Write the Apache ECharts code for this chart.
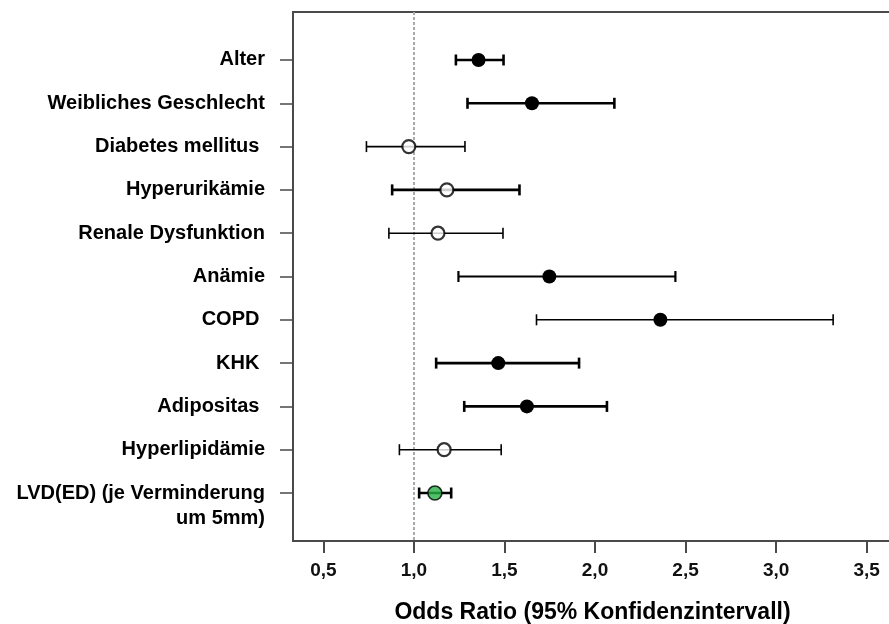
<!DOCTYPE html>
<html>
<head>
<meta charset="utf-8">
<script src="https://cdn.jsdelivr.net/npm/echarts@6/dist/echarts.min.js"></script>
<style>
  html, body { margin: 0; padding: 0; background: #fff; }
  #chart { width: 889px; height: 624px; }
</style>
</head>
<body>
<div id="chart"></div>
<script>
// Risk factors, top to bottom
const factors = [
  'Alter',
  'Weibliches Geschlecht',
  'Diabetes mellitus ',
  'Hyperurikämie',
  'Renale Dysfunktion',
  'Anämie',
  'COPD ',
  'KHK ',
  'Adipositas ',
  'Hyperlipidämie',
  'LVD(ED) (je Verminderung\num 5mm)'
];
// Odds ratios with lower / upper 95% confidence limits
const oddsRatio = [1.357, 1.652, 0.972, 1.182, 1.133, 1.748, 2.361, 1.466, 1.624, 1.167, 1.116];
const ciLower   = [1.232, 1.296, 0.738, 0.880, 0.862, 1.246, 1.677, 1.123, 1.278, 0.920, 1.029];
const ciUpper   = [1.495, 2.107, 1.282, 1.583, 1.492, 2.444, 3.315, 1.912, 2.066, 1.482, 1.206];
// x-axis tick labels
const xTicks = [0.5, 1.0, 1.5, 2.0, 2.5, 3.0, 3.5];

// Drawing styles
const FONT = "'Liberation Sans', Arial, Helvetica, sans-serif";
const AXIS_COLOR = '#4a4a4a';
const highlighted = 'LVD(ED) (je Verminderung\num 5mm)';
const barWidth = {
  'Alter': 2.6, 'Weibliches Geschlecht': 2.6, 'Hyperurikämie': 2.6, 'Anämie': 2.2,
  'KHK ': 2.6, 'Adipositas ': 2.6, 'LVD(ED) (je Verminderung\num 5mm)': 2.6
};
const rowIndex = factors.map((_, i) => i);

// Wrapped factor names continue on a second label line, 25px below the tick
const ROW_PX = 43.3;
const CONT_OFFSET = 25 / ROW_PX;
const labelValues = [];
rowIndex.forEach(i => {
  labelValues.push(i);
  if (factors[i].indexOf('\n') >= 0) labelValues.push(i + CONT_OFFSET);
});
function labelText(v) {
  const i = Math.floor(v + 1e-6);
  const parts = factors[i].split('\n');
  return Math.abs(v - i) < 1e-6 ? parts[0] : parts[1];
}

function markerStyle(i) {
  if (factors[i] === highlighted) {
    return { symbolSize: 14, itemStyle: { color: '#27b243', borderColor: '#000', borderWidth: 1.6 } };
  }
  const spansOne = ciLower[i] < 1 && ciUpper[i] > 1;
  if (spansOne) {
    return { symbolSize: 13, itemStyle: { color: '#fff', borderColor: '#000', borderWidth: 2.2 } };
  }
  return { symbolSize: 14, itemStyle: { color: '#000', borderColor: '#000', borderWidth: 0, opacity: 1 } };
}

const chart = echarts.init(document.getElementById('chart'), null, { renderer: 'canvas' });

chart.setOption({
  animation: false,
  backgroundColor: '#fff',
  grid: {
    left: 293, top: 12, right: -3, bottom: 83,
    outerBoundsMode: 'none',
    containLabel: false,
    show: true, borderColor: AXIS_COLOR, borderWidth: 2, backgroundColor: 'transparent'
  },
  xAxis: {
    type: 'value',
    min: 0.3325,
    max: 3.640,
    splitLine: { show: false },
    axisLine: { show: true, onZero: false, lineStyle: { color: AXIS_COLOR, width: 2 } },
    axisTick: {
      show: true, inside: false, length: 12, customValues: xTicks,
      lineStyle: { color: AXIS_COLOR, width: 2 }
    },
    axisLabel: {
      customValues: xTicks,
      margin: 20,
      fontFamily: FONT, fontWeight: 'bold', fontSize: 19, color: '#111',
      formatter: v => v.toFixed(1).replace('.', ',')
    },
    name: 'Odds Ratio (95% Konfidenzintervall)',
    nameLocation: 'middle',
    nameGap: 60,
    nameTextStyle: { fontFamily: FONT, fontWeight: 'bold', fontSize: 23, color: '#000' }
  },
  yAxis: {
    type: 'value',
    inverse: true,
    min: -1.108,
    max: 11.108,
    splitLine: { show: false },
    axisLine: { show: true, onZero: false, lineStyle: { color: AXIS_COLOR, width: 2 } },
    axisTick: {
      show: true, inside: false, length: 13, customValues: rowIndex,
      lineStyle: { color: AXIS_COLOR, width: 1.5 }
    },
    axisLabel: {
      customValues: labelValues,
      showMinLabel: true,
      showMaxLabel: true,
      hideOverlap: false,
      margin: 28,
      align: 'right',
      lineHeight: 21,
      fontFamily: FONT, fontWeight: 'bold', fontSize: 20, color: '#000',
      formatter: labelText
    }
  },
  series: [
    {
      // confidence interval whiskers
      type: 'custom',
      silent: true,
      z: 2,
      data: factors.map((_, i) => [ciLower[i], ciUpper[i], i]),
      renderItem: (params, api) => {
        const i = params.dataIndex;
        const a = api.coord([api.value(0), api.value(2)]);
        const b = api.coord([api.value(1), api.value(2)]);
        const w = barWidth[factors[i]] || 1.6;
        const cap = 5.5;
        const style = { stroke: '#000', lineWidth: w, fill: null };
        return {
          type: 'group',
          children: [
            { type: 'line', shape: { x1: a[0], y1: a[1], x2: b[0], y2: b[1] }, style },
            { type: 'line', shape: { x1: a[0], y1: a[1] - cap, x2: a[0], y2: a[1] + cap }, style },
            { type: 'line', shape: { x1: b[0], y1: b[1] - cap, x2: b[0], y2: b[1] + cap }, style }
          ]
        };
      }
    },
    {
      // odds ratio point estimates
      type: 'scatter',
      z: 3,
      symbol: 'circle',
      silent: true,
      data: factors.map((_, i) => Object.assign({ value: [oddsRatio[i], i] }, markerStyle(i))),
      markLine: {
        silent: true,
        symbol: 'none',
        label: { show: false },
        z: 1,
        lineStyle: { color: '#aaaaaa', width: 2, type: [3, 2] },
        data: [{ xAxis: 1 }]
      }
    }
  ]
});
</script>
</body>
</html>
